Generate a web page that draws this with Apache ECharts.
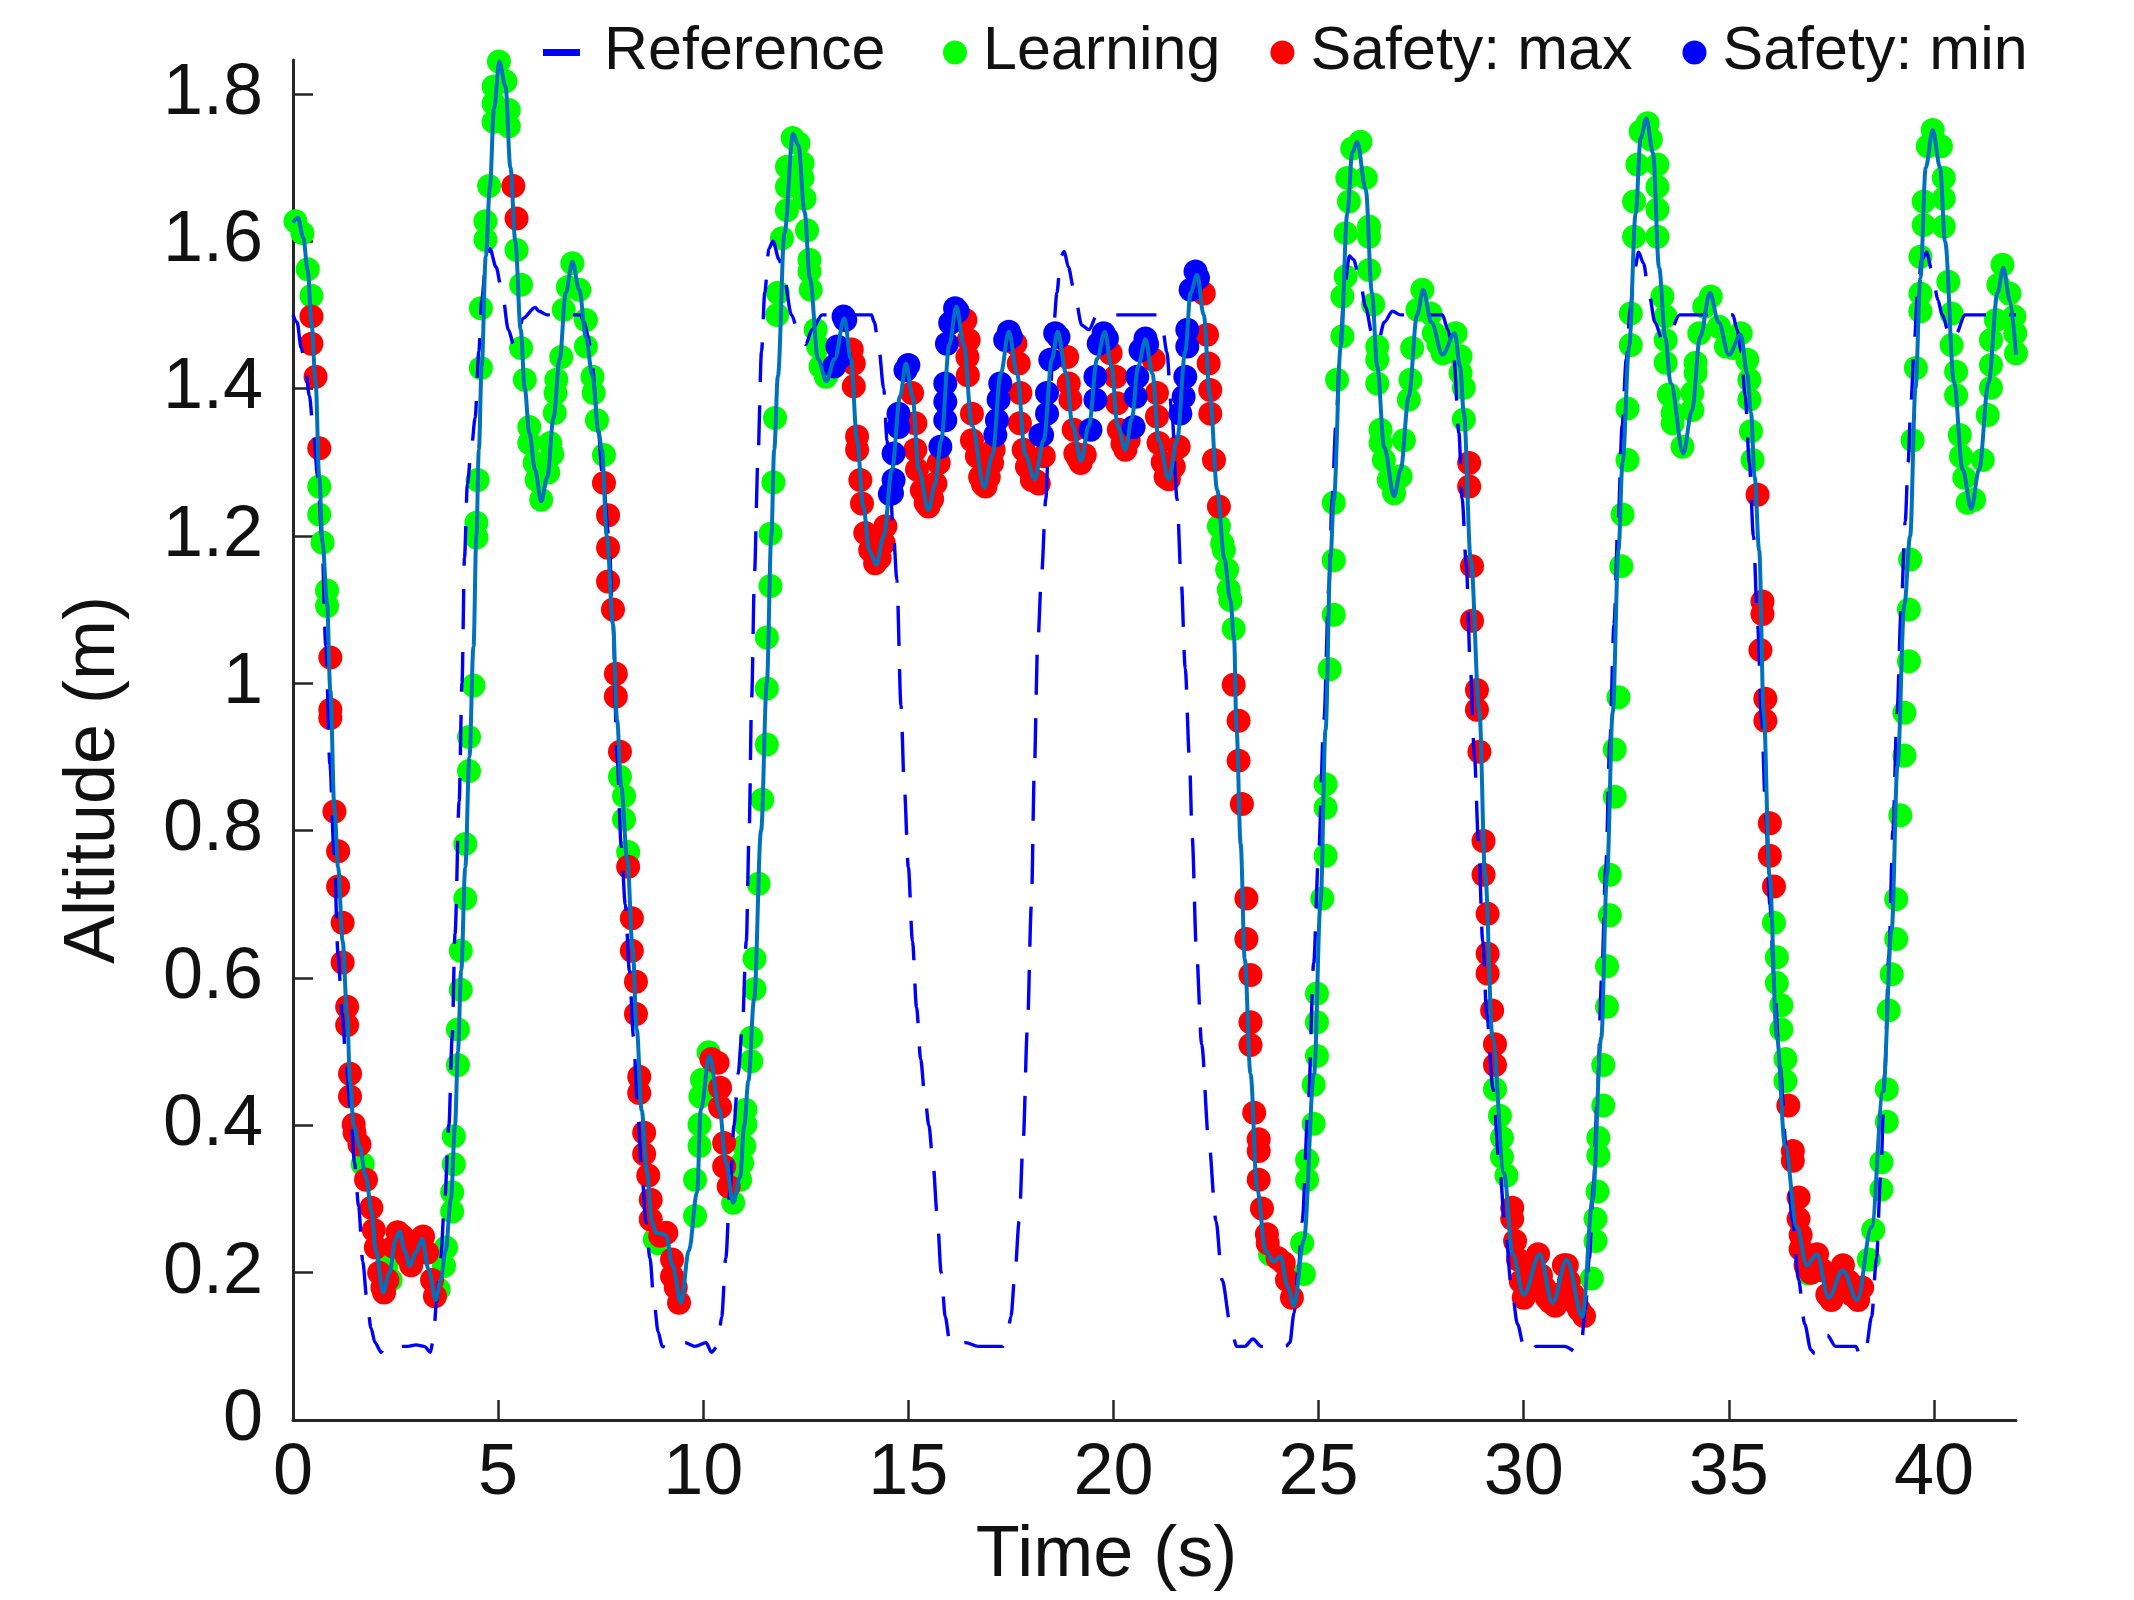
<!DOCTYPE html>
<html><head><meta charset="utf-8">
<script src="https://cdn.jsdelivr.net/npm/echarts@6/dist/echarts.min.js"></script>
<style>html,body{margin:0;padding:0;background:#fff}#c{width:2134px;height:1600px}</style>
</head><body><div id="c"></div>
<script>
// ---------- tick labels ----------
const xTicks = [0,5,10,15,20,25,30,35,40];
const yTicks = [0,0.2,0.4,0.6,0.8,1,1.2,1.4,1.6,1.8];
const yTickLabels = ['0','0.2','0.4','0.6','0.8','1','1.2','1.4','1.6','1.8'];

// ---------- reference trajectory (dashed) [time, altitude] ----------
const referenceTraj = [
[0,1.5],[0.1,1.49],[0.2,1.455],[0.3,1.43],[0.4,1.39],[0.5,1.34],[0.6,1.28],[0.7,1.2],[0.8,1.05],[0.9,0.89],[1.0,0.77],[1.1,0.63],[1.2,0.55],[1.3,0.48],[1.4,0.42],[1.5,0.35],[1.6,0.29],[1.7,0.215],[1.8,0.165],[1.9,0.125],[2.0,0.105],[2.15,0.092],[2.25,0.1],[2.4,0.104],[2.6,0.1],[2.8,0.1],[3.0,0.102],[3.2,0.1],[3.35,0.092],[3.42,0.11],
[3.5,0.16],[3.6,0.22],[3.7,0.3],[3.8,0.4],[3.88,0.52],[3.95,0.66],[4.05,0.84],[4.12,1.0],[4.18,1.17],[4.25,1.27],[4.35,1.32],[4.44,1.36],[4.53,1.45],[4.6,1.52],[4.7,1.57],[4.8,1.59],[4.95,1.565],[5.1,1.53],[5.25,1.48],[5.38,1.46],[5.5,1.475],[5.6,1.495],[5.9,1.51],[6.0,1.505],[6.2,1.5],[7.0,1.5],
[7.1,1.49],[7.2,1.47],[7.3,1.43],[7.4,1.37],[7.55,1.28],[7.7,1.2],[7.8,1.08],[7.9,0.9],[8.0,0.78],[8.1,0.7],[8.2,0.61],[8.3,0.52],[8.4,0.42],[8.5,0.34],[8.6,0.27],[8.7,0.22],[8.8,0.16],[8.9,0.12],[9.0,0.1],[9.2,0.095],[9.4,0.1],[9.55,0.105],[9.8,0.1],[10.07,0.105],[10.2,0.092],[10.35,0.1],
[10.45,0.14],[10.55,0.22],[10.65,0.31],[10.75,0.4],[10.85,0.47],[10.95,0.53],[11.05,0.65],[11.12,0.8],[11.18,0.98],[11.25,1.15],[11.33,1.3],[11.42,1.45],[11.5,1.53],[11.6,1.59],[11.7,1.6],[11.85,1.575],[11.97,1.55],[12.15,1.5],[12.35,1.47],[12.5,1.46],[12.65,1.48],[12.9,1.5],[14.1,1.5],
[14.17,1.49],[14.27,1.46],[14.4,1.4],[14.48,1.33],[14.56,1.26],[14.64,1.2],[14.72,1.14],[14.82,0.97],[14.9,0.86],[15.0,0.75],[15.1,0.65],[15.2,0.56],[15.3,0.49],[15.4,0.44],[15.5,0.4],[15.6,0.35],[15.7,0.28],[15.8,0.2],[15.9,0.14],[16.0,0.11],[16.1,0.1],[16.4,0.105],[16.7,0.1],[17.0,0.1],[17.3,0.1],[17.4,0.11],
[17.5,0.14],[17.6,0.2],[17.7,0.27],[17.8,0.38],[17.9,0.53],[18.0,0.7],[18.07,0.88],[18.15,1.05],[18.25,1.15],[18.35,1.25],[18.45,1.38],[18.55,1.49],[18.62,1.53],[18.72,1.58],[18.8,1.586],[18.9,1.565],[19.03,1.536],[19.23,1.486],[19.4,1.48],[19.6,1.5],[20.0,1.5],[21.06,1.5],
[21.2,1.48],[21.3,1.45],[21.42,1.37],[21.55,1.25],[21.65,1.14],[21.75,1.02],[21.85,0.9],[21.92,0.79],[22.02,0.64],[22.15,0.51],[22.32,0.38],[22.5,0.27],[22.65,0.19],[22.85,0.13],[23.0,0.1],[23.2,0.1],[23.4,0.11],[23.6,0.1],[23.9,0.1],[24.2,0.1],[24.3,0.105],
[24.4,0.145],[24.5,0.2],[24.6,0.27],[24.75,0.43],[24.88,0.62],[25.0,0.77],[25.13,0.95],[25.25,1.13],[25.33,1.25],[25.42,1.35],[25.52,1.45],[25.62,1.53],[25.75,1.58],[25.85,1.575],[26.0,1.55],[26.15,1.51],[26.3,1.475],[26.45,1.462],[26.6,1.49],[26.8,1.505],[27.0,1.5],[28.02,1.5],
[28.15,1.48],[28.3,1.44],[28.42,1.34],[28.5,1.25],[28.6,1.16],[28.7,1.02],[28.8,0.9],[28.9,0.78],[29.0,0.65],[29.1,0.55],[29.25,0.45],[29.4,0.35],[29.55,0.26],[29.7,0.18],[29.85,0.13],[30.0,0.1],[30.15,0.09],[30.3,0.1],[30.7,0.1],[31.0,0.1],[31.3,0.092],[31.4,0.1],
[31.5,0.15],[31.6,0.22],[31.7,0.32],[31.8,0.45],[31.9,0.6],[32.0,0.75],[32.1,0.92],[32.2,1.08],[32.3,1.22],[32.4,1.35],[32.5,1.44],[32.6,1.51],[32.7,1.56],[32.8,1.585],[32.92,1.57],[33.05,1.53],[33.2,1.49],[33.38,1.466],[33.55,1.475],[33.8,1.5],[35.1,1.5],
[35.2,1.48],[35.3,1.45],[35.4,1.39],[35.5,1.3],[35.6,1.2],[35.7,1.08],[35.8,0.95],[35.9,0.82],[36.0,0.7],[36.1,0.6],[36.25,0.48],[36.4,0.37],[36.55,0.27],[36.7,0.19],[36.85,0.13],[37.0,0.095],[37.1,0.09],[37.2,0.1],[37.4,0.115],[37.6,0.1],[37.9,0.1],[38.1,0.1],[38.2,0.085],[38.35,0.1],
[38.48,0.14],[38.6,0.22],[38.7,0.33],[38.8,0.47],[38.9,0.63],[39.0,0.8],[39.1,0.96],[39.2,1.1],[39.3,1.22],[39.37,1.3],[39.44,1.38],[39.52,1.46],[39.6,1.53],[39.7,1.575],[39.82,1.585],[39.95,1.56],[40.1,1.52],[40.2,1.5],[40.41,1.466],[40.55,1.475],[40.75,1.5],[42.0,1.5]
];

// ---------- actual altitude (solid) [time, altitude] ----------
const actualTraj = [
[0,1.625],[0.12,1.632],[0.25,1.605],[0.36,1.56],[0.45,1.49],[0.55,1.41],[0.64,1.28],[0.72,1.19],[0.83,1.11],[0.91,0.99],[1.01,0.83],[1.1,0.75],[1.21,0.65],[1.32,0.55],[1.39,0.46],[1.48,0.4],[1.62,0.372],[1.78,0.33],[1.91,0.285],[2.02,0.23],[2.2,0.173],[2.35,0.2],[2.5,0.245],[2.6,0.256],[2.72,0.23],[2.85,0.209],[3.0,0.228],[3.15,0.246],[3.3,0.205],[3.48,0.163],[3.6,0.19],[3.72,0.23],[3.85,0.3],[3.95,0.4],[4.02,0.5],[4.1,0.61],[4.2,0.75],[4.3,0.9],[4.4,1.05],[4.47,1.2],[4.53,1.317],[4.6,1.43],[4.7,1.58],[4.8,1.674],[4.9,1.78],[5.03,1.844],[5.18,1.81],[5.3,1.7],[5.42,1.6],[5.55,1.48],[5.65,1.4],[5.76,1.34],[5.9,1.29],[6.05,1.247],[6.2,1.28],[6.35,1.36],[6.5,1.44],[6.65,1.53],[6.81,1.572],[6.98,1.534],[7.14,1.47],[7.3,1.417],[7.45,1.34],[7.53,1.317],[7.65,1.2],[7.8,1.08],[7.9,0.95],[8.0,0.86],[8.15,0.76],[8.28,0.64],[8.38,0.53],[8.5,0.42],[8.63,0.336],[8.75,0.27],[8.85,0.254],[8.99,0.253],[9.1,0.25],[9.25,0.21],[9.46,0.159],[9.65,0.23],[9.85,0.309],[9.94,0.421],[10.15,0.494],[10.4,0.421],[10.55,0.35],[10.73,0.295],[10.9,0.33],[11.0,0.4],[11.1,0.46],[11.24,0.571],[11.41,0.8],[11.55,1.0],[11.66,1.2],[11.73,1.317],[11.82,1.417],[11.98,1.611],[12.19,1.746],[12.32,1.73],[12.47,1.64],[12.6,1.55],[12.8,1.44],[13.0,1.41],[13.2,1.44],[13.44,1.495],[13.6,1.44],[13.75,1.33],[13.9,1.24],[14.05,1.18],[14.22,1.161],[14.4,1.2],[14.6,1.29],[14.8,1.39],[14.94,1.434],[15.1,1.39],[15.25,1.29],[15.49,1.235],[15.65,1.27],[15.8,1.33],[16.0,1.46],[16.17,1.511],[16.35,1.46],[16.55,1.35],[16.85,1.266],[17.05,1.31],[17.25,1.42],[17.45,1.477],[17.65,1.42],[17.85,1.31],[18.08,1.277],[18.3,1.33],[18.5,1.44],[18.64,1.477],[18.85,1.42],[19.0,1.35],[19.21,1.302],[19.4,1.35],[19.6,1.44],[19.79,1.477],[19.95,1.43],[20.1,1.35],[20.29,1.317],[20.45,1.36],[20.6,1.43],[20.78,1.467],[20.95,1.42],[21.1,1.33],[21.35,1.277],[21.55,1.33],[21.75,1.45],[21.88,1.53],[22.04,1.554],[22.2,1.5],[22.35,1.39],[22.53,1.262],[22.7,1.17],[22.85,1.113],[22.94,1.06],[23.0,0.937],[23.1,0.782],[23.2,0.626],[23.34,0.47],[23.5,0.314],[23.71,0.229],[23.9,0.215],[24.07,0.222],[24.25,0.18],[24.4,0.155],[24.64,0.244],[24.89,0.47],[25.05,0.704],[25.17,0.937],[25.29,1.171],[25.37,1.249],[25.54,1.457],[25.7,1.638],[25.82,1.72],[25.94,1.735],[26.15,1.67],[26.3,1.53],[26.43,1.43],[26.6,1.32],[26.84,1.254],[27.0,1.29],[27.2,1.39],[27.4,1.5],[27.55,1.534],[27.75,1.49],[28.02,1.446],[28.32,1.475],[28.45,1.43],[28.54,1.367],[28.71,1.168],[28.92,0.961],[29.06,0.74],[29.24,0.519],[29.52,0.335],[29.73,0.225],[30.0,0.17],[30.39,0.225],[30.7,0.159],[31.05,0.218],[31.43,0.14],[31.68,0.299],[31.89,0.519],[32.03,0.74],[32.17,0.961],[32.31,1.181],[32.41,1.3],[32.57,1.457],[32.73,1.638],[32.85,1.74],[32.99,1.767],[33.15,1.72],[33.3,1.564],[33.45,1.47],[33.58,1.408],[33.89,1.312],[34.1,1.37],[34.3,1.47],[34.54,1.53],[34.75,1.49],[35.0,1.446],[35.29,1.473],[35.45,1.42],[35.54,1.367],[35.63,1.28],[35.74,1.18],[35.85,0.96],[35.99,0.74],[36.17,0.52],[36.37,0.372],[36.66,0.262],[36.9,0.21],[37.15,0.225],[37.43,0.166],[37.78,0.203],[38.13,0.163],[38.48,0.262],[38.76,0.446],[38.97,0.666],[39.11,0.887],[39.28,1.107],[39.42,1.2],[39.55,1.4],[39.67,1.55],[39.8,1.7],[39.97,1.751],[40.15,1.7],[40.27,1.6],[40.49,1.408],[40.7,1.29],[40.91,1.237],[41.1,1.29],[41.33,1.408],[41.55,1.53],[41.69,1.564],[41.85,1.52],[42.0,1.446]
];

// ---------- scatter markers [time, altitude] ----------
const learningPts = [
[0.06,1.627],[0.23,1.611],[0.36,1.562],[0.45,1.526],[0.64,1.267],[0.64,1.229],[0.72,1.191],[0.83,1.126],[0.83,1.105],
[1.7,0.347],[2.28,0.21],[2.38,0.19],
[3.55,0.177],[3.68,0.209],[3.73,0.234],[3.88,0.283],[3.88,0.309],[3.92,0.347],[3.92,0.385],[4.02,0.482],[4.02,0.53],[4.09,0.584],[4.09,0.637],[4.2,0.708],[4.2,0.782],[4.29,0.881],[4.29,0.927],[4.4,0.997],[4.47,1.198],[4.47,1.218],[4.5,1.276],[4.58,1.428],[4.58,1.509],[4.69,1.602],[4.69,1.627],[4.78,1.675],[4.89,1.762],[4.89,1.787],[4.89,1.81],[5.02,1.844],[5.18,1.817],[5.26,1.778],[5.26,1.756],[5.45,1.588],[5.56,1.541],[5.56,1.455],[5.65,1.412],[5.76,1.348],[5.76,1.326],[5.89,1.299],[5.94,1.276],[6.0,1.286],[6.05,1.249],[6.22,1.286],[6.32,1.311],[6.27,1.326],[6.38,1.367],[6.4,1.394],[6.42,1.412],[6.54,1.443],[6.6,1.507],[6.7,1.538],[6.81,1.57],[6.98,1.534],[7.14,1.493],[7.14,1.457],[7.3,1.416],[7.33,1.394],[7.41,1.357],[7.58,1.31],
[7.97,0.873],[8.07,0.847],[8.07,0.815],[8.17,0.771],
[8.82,0.245],[8.9,0.24],
[9.8,0.277],[9.8,0.326],[9.91,0.372],[9.91,0.401],[9.93,0.439],[9.97,0.462],[10.13,0.499],
[10.73,0.295],[10.9,0.326],[10.95,0.349],[11.0,0.372],[11.03,0.401],[11.03,0.421],[11.17,0.487],[11.17,0.519],[11.25,0.585],[11.25,0.626],[11.35,0.728],[11.44,0.842],[11.55,0.917],[11.55,0.993],[11.55,1.062],[11.64,1.132],[11.64,1.203],[11.71,1.273],[11.75,1.36],[11.8,1.5],[11.82,1.53],[11.92,1.604],[12.04,1.642],[12.04,1.674],[12.04,1.701],[12.18,1.74],[12.32,1.733],[12.42,1.706],[12.42,1.686],[12.47,1.658],[12.53,1.615],[12.59,1.575],[12.59,1.559],[12.62,1.534],[12.74,1.48],[12.8,1.457],[12.86,1.43],[12.99,1.416],[13.08,1.425],
[22.57,1.213],[22.65,1.19],[22.69,1.181],[22.77,1.154],[22.81,1.127],[22.85,1.113],[22.93,1.074],
[23.82,0.225],[24.6,0.24],[24.64,0.198],[24.72,0.326],[24.72,0.353],[24.88,0.402],[24.88,0.455],[24.96,0.494],[24.96,0.54],[24.96,0.579],[25.09,0.708],[25.17,0.766],[25.17,0.831],[25.17,0.863],[25.27,1.019],[25.37,1.093],[25.37,1.167],[25.37,1.245],[25.45,1.412],[25.58,1.471],[25.58,1.525],[25.66,1.552],[25.66,1.611],[25.74,1.654],[25.7,1.686],[25.82,1.726],[26.02,1.735],[26.15,1.686],[26.23,1.62],[26.23,1.606],[26.23,1.561],[26.33,1.514],[26.43,1.457],[26.43,1.439],[26.43,1.407],[26.51,1.344],[26.51,1.326],[26.59,1.303],[26.71,1.276],[26.84,1.258],[27.0,1.281],[27.08,1.33],[27.2,1.385],[27.24,1.412],[27.28,1.455],[27.41,1.507],[27.53,1.534],[27.73,1.502],[27.81,1.475],[27.92,1.46],[28.02,1.448],[28.15,1.455],[28.34,1.475],[28.46,1.444],[28.46,1.421],[28.54,1.401],[28.54,1.358],
[29.3,0.449],[29.42,0.413],[29.47,0.383],[29.47,0.357],[29.58,0.332],
[31.66,0.192],[31.75,0.243],[31.75,0.273],[31.8,0.31],[31.82,0.359],[31.82,0.383],[31.94,0.427],[31.94,0.482],[32.03,0.561],[32.03,0.616],[32.1,0.685],[32.1,0.74],[32.22,0.846],[32.22,0.91],[32.31,0.981],[32.38,1.159],[32.41,1.229],[32.53,1.303],[32.53,1.373],[32.61,1.459],[32.61,1.502],[32.69,1.606],[32.69,1.654],[32.77,1.704],[32.85,1.749],[33.02,1.76],[33.1,1.738],[33.26,1.704],[33.26,1.674],[33.26,1.643],[33.26,1.606],[33.38,1.525],[33.46,1.498],[33.46,1.466],[33.46,1.435],[33.54,1.392],[33.63,1.367],[33.63,1.353],[33.87,1.321],[34.11,1.371],[34.11,1.394],[34.19,1.421],[34.19,1.435],[34.28,1.475],[34.4,1.511],[34.56,1.525],[34.76,1.484],[34.93,1.457],[35.1,1.455],[35.29,1.475],[35.45,1.439],[35.5,1.412],[35.5,1.385],[35.54,1.342],[35.58,1.303],
[36.1,0.675],[36.17,0.628],[36.17,0.593],[36.28,0.563],[36.28,0.53],[36.38,0.49],[36.38,0.46],[36.94,0.199],
[38.41,0.218],[38.52,0.258],[38.72,0.313],[38.72,0.35],[38.85,0.405],[38.85,0.449],[38.9,0.556],[38.97,0.605],[39.08,0.653],[39.08,0.707],[39.18,0.821],[39.28,0.902],[39.28,0.96],[39.39,1.03],[39.39,1.1],[39.42,1.168],[39.48,1.33],[39.56,1.428],[39.67,1.505],[39.67,1.529],[39.67,1.579],[39.75,1.622],[39.75,1.654],[39.85,1.729],[39.97,1.751],[40.17,1.729],[40.24,1.686],[40.24,1.658],[40.24,1.62],[40.35,1.545],[40.43,1.502],[40.43,1.459],[40.54,1.423],[40.54,1.391],[40.63,1.337],[40.66,1.308],[40.74,1.279],[40.82,1.245],[40.98,1.249],[41.19,1.303],[41.31,1.364],[41.39,1.401],[41.39,1.432],[41.39,1.466],[41.51,1.493],[41.57,1.541],[41.67,1.568],[41.84,1.529],[41.96,1.498],[41.98,1.475],[42.0,1.448]
];

const safetyMaxPts = [
[0.45,1.498],[0.45,1.461],[0.55,1.416],[0.64,1.319],[0.91,1.035],[0.91,0.964],[0.91,0.953],[1.01,0.826],[1.1,0.772],[1.1,0.724],[1.21,0.675],[1.21,0.621],[1.32,0.561],[1.32,0.536],[1.39,0.47],[1.39,0.439],[1.48,0.401],[1.5,0.39],[1.62,0.374],[1.78,0.326],[1.91,0.288],[1.97,0.258],[2.02,0.234],[2.1,0.2],[2.18,0.18],[2.22,0.173],[2.3,0.19],[2.45,0.235],[2.55,0.255],[2.65,0.25],[2.78,0.222],[2.88,0.21],[3.0,0.228],[3.1,0.245],[3.17,0.249],[3.27,0.227],[3.39,0.19],[3.46,0.168],
[5.37,1.675],[5.45,1.631],
[7.58,1.272],[7.68,1.228],[7.68,1.184],[7.68,1.138],[7.8,1.1],[7.87,1.013],[7.87,0.982],[7.97,0.907],[8.17,0.751],[8.26,0.681],[8.26,0.637],[8.36,0.595],[8.36,0.551],[8.44,0.466],[8.44,0.444],[8.56,0.39],[8.56,0.361],[8.66,0.332],[8.72,0.299],[8.72,0.272],[8.95,0.25],[9.1,0.254],[9.24,0.218],[9.24,0.195],[9.33,0.18],[9.41,0.159],
[10.2,0.49],[10.35,0.485],[10.41,0.451],[10.41,0.425],[10.51,0.376],[10.51,0.344],[10.62,0.317],
[13.62,1.453],[13.67,1.434],[13.67,1.403],[13.75,1.335],[13.75,1.317],[13.83,1.276],[13.87,1.244],[13.95,1.204],[14.07,1.181],[14.19,1.163],[14.3,1.17],[14.4,1.19],[14.44,1.213],
[15.09,1.394],[15.17,1.353],[15.17,1.317],[15.21,1.29],[15.33,1.262],[15.42,1.245],[15.49,1.24],[15.58,1.25],[15.66,1.271],[15.74,1.299],
[16.39,1.493],[16.47,1.466],[16.44,1.443],[16.45,1.418],[16.55,1.366],[16.55,1.33],[16.67,1.308],[16.75,1.28],[16.82,1.27],[16.88,1.267],[16.96,1.28],[17.04,1.299],[17.08,1.317],
[17.61,1.461],[17.69,1.434],[17.73,1.394],[17.72,1.353],[17.81,1.317],[17.89,1.294],[18.01,1.276],[18.1,1.275],[18.18,1.271],[18.3,1.308],
[18.87,1.443],[18.91,1.407],[18.95,1.385],[19.03,1.344],[19.07,1.312],[19.14,1.305],[19.2,1.299],[19.3,1.31],
[19.93,1.448],[20.05,1.416],[20.09,1.38],[20.13,1.344],[20.22,1.325],[20.29,1.317],[20.37,1.33],
[20.98,1.439],[21.06,1.394],[21.06,1.362],[21.1,1.326],[21.2,1.3],[21.27,1.28],[21.35,1.277],[21.47,1.294],[21.59,1.321],
[22.2,1.529],[22.28,1.473],[22.32,1.434],[22.36,1.398],[22.36,1.366],[22.45,1.303],[22.57,1.24],
[22.93,0.998],[23.05,0.949],[23.05,0.895],[23.13,0.836],[23.24,0.708],[23.24,0.653],[23.34,0.604],[23.34,0.54],[23.34,0.509],[23.43,0.417],[23.54,0.381],[23.54,0.365],[23.54,0.326],[23.62,0.287],[23.74,0.252],[23.76,0.24],[24.0,0.22],[24.15,0.213],[24.23,0.19],[24.35,0.166],
[28.67,1.299],[28.67,1.267],[28.74,1.159],[28.74,1.085],[28.86,0.991],[28.86,0.964],[28.92,0.907],[29.02,0.786],[29.02,0.74],[29.12,0.687],[29.12,0.633],[29.12,0.606],[29.23,0.556],[29.3,0.51],[29.3,0.482],[29.72,0.288],[29.72,0.273],[29.79,0.243],[29.86,0.218],[29.93,0.188],[30.0,0.166],[30.1,0.19],[30.2,0.21],[30.35,0.225],[30.42,0.196],[30.5,0.18],[30.56,0.166],[30.65,0.16],[30.77,0.155],[30.85,0.17],[30.98,0.21],[31.05,0.21],[31.1,0.188],[31.2,0.17],[31.26,0.159],[31.35,0.15],[31.47,0.141],
[35.7,1.256],[35.82,1.111],[35.82,1.094],[35.77,1.045],[35.89,0.979],[35.89,0.949],[36.0,0.81],[36.0,0.766],[36.1,0.724],[36.45,0.427],[36.56,0.365],[36.56,0.352],[36.7,0.302],[36.7,0.273],[36.75,0.251],[36.75,0.232],[36.87,0.21],[37.0,0.2],[37.1,0.22],[37.15,0.225],[37.29,0.203],[37.4,0.17],[37.5,0.163],[37.6,0.18],[37.7,0.2],[37.78,0.21],[37.92,0.188],[38.0,0.17],[38.15,0.163],[38.25,0.18]
];

const safetyMinPts = [
[13.19,1.43],[13.27,1.457],[13.34,1.443],[13.42,1.498],[13.46,1.493],
[14.55,1.257],[14.6,1.258],[14.64,1.276],[14.64,1.312],[14.76,1.348],[14.76,1.366],[14.93,1.425],[15.0,1.432],
[15.78,1.321],[15.9,1.357],[15.9,1.382],[15.9,1.407],[15.94,1.461],[16.02,1.489],[16.14,1.509],[16.2,1.505],
[17.12,1.337],[17.16,1.357],[17.2,1.385],[17.24,1.407],[17.36,1.466],[17.45,1.477],[17.5,1.47],
[18.22,1.337],[18.26,1.337],[18.38,1.366],[18.38,1.394],[18.46,1.439],[18.58,1.475],[18.66,1.47],
[19.44,1.344],[19.56,1.385],[19.56,1.416],[19.64,1.461],[19.76,1.475],[19.84,1.468],
[20.49,1.348],[20.54,1.389],[20.58,1.416],[20.66,1.452],[20.78,1.468],[20.82,1.46],
[21.63,1.366],[21.71,1.389],[21.75,1.416],[21.8,1.457],[21.8,1.48],[21.88,1.534],[22.0,1.559],[22.06,1.55]
];

// ---------- chart ----------
const FONT = "'Liberation Sans', Arial, Helvetica, sans-serif";
const TXT = '#111111';
const AX = '#262626';
const chart = echarts.init(document.getElementById('c'), null, {renderer: 'canvas'});
chart.setOption({
  animation: false,
  backgroundColor: '#ffffff',
  grid: {left: 293, right: 118, top: 60, bottom: 180, containLabel: false},
  legend: [
    {
      data: [{name: 'Reference', icon: 'rect'}],
      left: 538, top: 17, orient: 'horizontal',
      itemWidth: 37, itemHeight: 7,
      textStyle: {fontSize: 61, color: TXT, fontFamily: FONT, padding: [0, 0, 0, 19]},
      selectedMode: false
    },
    {
      data: ['Learning', 'Safety: max', 'Safety: min'],
      left: 938, top: 17, orient: 'horizontal',
      icon: 'circle', itemWidth: 24, itemHeight: 24, itemGap: 50,
      textStyle: {fontSize: 61, color: TXT, fontFamily: FONT, padding: [0, 0, 0, 11]},
      selectedMode: false
    }
  ],
  xAxis: {
    type: 'value', min: 0, max: 42,
    name: 'Time (s)', nameLocation: 'middle', nameGap: 100,
    nameTextStyle: {fontSize: 72, color: TXT, fontFamily: FONT, padding: [0, 96, 0, 0]},
    axisLine: {show: true, onZero: false, lineStyle: {color: AX, width: 3}},
    axisTick: {show: true, inside: true, length: 20, customValues: xTicks, lineStyle: {color: AX, width: 2.5}},
    axisLabel: {show: true, customValues: xTicks, fontSize: 72, color: TXT, fontFamily: FONT, margin: 18},
    splitLine: {show: false}
  },
  yAxis: {
    type: 'value', min: 0, max: 1.846,
    name: 'Altitude (m)', nameLocation: 'middle', nameGap: 163, nameRotate: 90,
    nameTextStyle: {fontSize: 72, color: TXT, fontFamily: FONT, padding: [0, 80, 0, 0]},
    axisLine: {show: true, onZero: false, lineStyle: {color: AX, width: 3}},
    axisTick: {show: true, inside: true, length: 20, customValues: yTicks, lineStyle: {color: AX, width: 2.5}},
    axisLabel: {
      show: true, customValues: yTicks, fontSize: 72, color: TXT, fontFamily: FONT, margin: 30,
      formatter: function (v) {
        for (let i = 0; i < yTicks.length; i++) if (Math.abs(yTicks[i] - v) < 1e-6) return yTickLabels[i];
        return '';
      }
    },
    splitLine: {show: false}
  },
  series: [
    {name: 'Learning', type: 'scatter', data: learningPts, symbol: 'circle', symbolSize: 24,
     itemStyle: {color: '#00ff00', opacity: 1}, z: 2, clip: false},
    {name: 'Safety: max', type: 'scatter', data: safetyMaxPts, symbol: 'circle', symbolSize: 24,
     itemStyle: {color: '#ff0000', opacity: 1}, z: 3, clip: false},
    {name: 'Safety: min', type: 'scatter', data: safetyMinPts, symbol: 'circle', symbolSize: 24,
     itemStyle: {color: '#0000ff', opacity: 1}, z: 4, clip: false},
    {name: 'Reference', type: 'line', data: referenceTraj, showSymbol: false, symbol: 'none',
     smooth: 0.3, smoothMonotone: 'x',
     lineStyle: {color: '#0000ff', width: 3.4, type: [40, 23]}, itemStyle: {color: '#0000ff'}, z: 5},
    {name: 'Altitude', type: 'line', data: actualTraj, showSymbol: false, symbol: 'none',
     smooth: 0.35, smoothMonotone: 'x',
     lineStyle: {color: '#0072bd', width: 4}, itemStyle: {color: '#0072bd'}, z: 6}
  ]
});
</script>
</body></html>
